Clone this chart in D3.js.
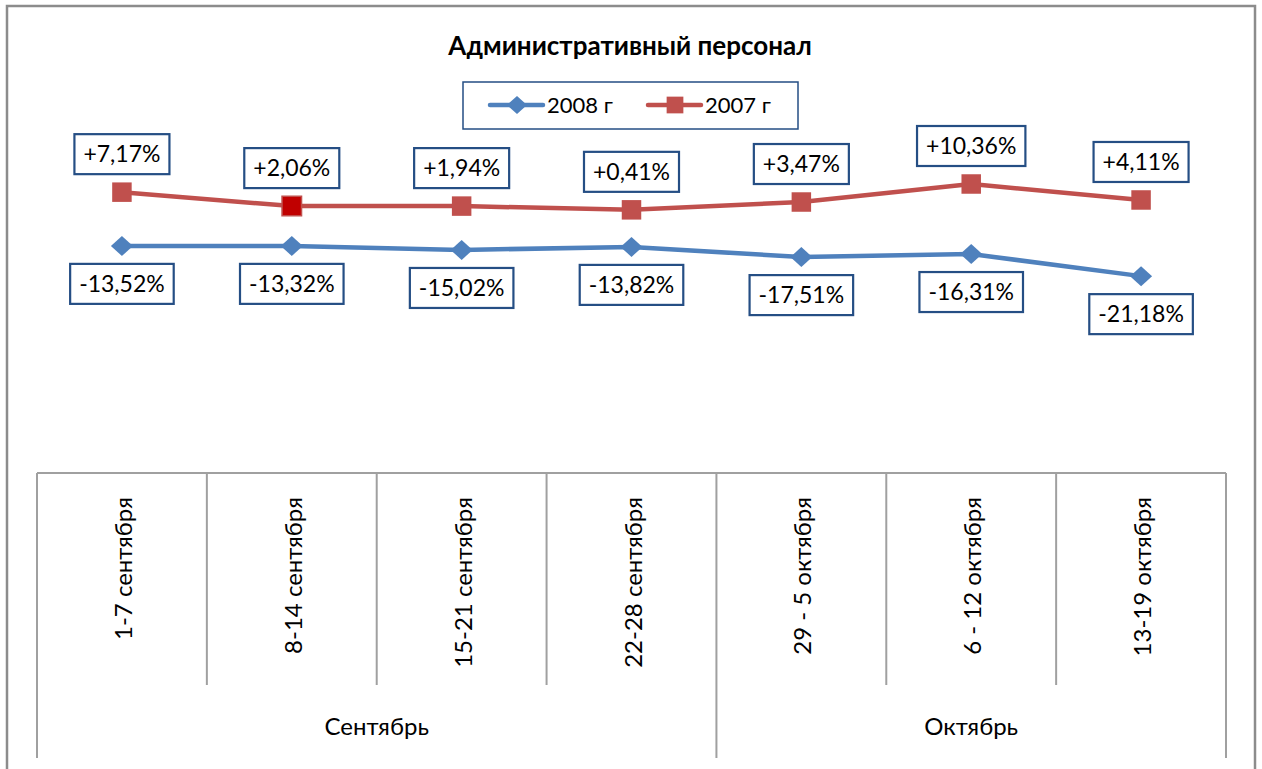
<!DOCTYPE html>
<html>
<head>
<meta charset="utf-8">
<script src="https://cdn.jsdelivr.net/npm/d3@7"></script>
<style>
  body { margin: 0; background: #fff; }
  svg { display: block; font-family: Lato, "Open Sans", sans-serif; }
</style>
</head>
<body>
<div id="chart"></div>
<script>
// data
const weeks = ["1-7 сентября", "8-14 сентября", "15-21 сентября", "22-28 сентября",
               "29 - 5 октября", "6 - 12 октября", "13-19 октября"];
const months = [
  {name: "Сентябрь", from: 0, to: 4},
  {name: "Октябрь", from: 4, to: 7}
];
const series2008 = [66.8, 66.8, 65.6, 66.5, 63.5, 64.4, 57.9];
const series2007 = [82.6, 78.5, 78.5, 77.4, 79.7, 85.0, 80.3];
const labels2008 = ["-13,52%", "-13,32%", "-15,02%", "-13,82%", "-17,51%", "-16,31%", "-21,18%"];
const labels2007 = ["+7,17%", "+2,06%", "+1,94%", "+0,41%", "+3,47%", "+10,36%", "+4,11%"];
const highlight2007 = 1; // point with darker fill

const width = 1262, height = 769;
const plot = {left: 37, right: 1226, top: 133, axis: 473};

const svg = d3.select("#chart").append("svg")
  .attr("width", width).attr("height", height);

// chart border
svg.append("rect")
  .attr("x", 7).attr("y", 6)
  .attr("width", 1248).attr("height", 780)
  .attr("fill", "#fff")
  .attr("stroke", "#8c8c8c").attr("stroke-width", 2.5);

const x = d3.scaleBand()
  .domain(d3.range(weeks.length))
  .range([plot.left, plot.right]);

const y = d3.scaleLinear()
  .domain([0, 100])
  .range([plot.axis, plot.top]);

// wide diamond like the spreadsheet marker
const diamond = (w, h) => `M0,${-h}L${w},0L0,${h}L${-w},0Z`;

// title
svg.append("text")
  .attr("x", 630).attr("y", 55)
  .attr("text-anchor", "middle")
  .attr("font-size", 26).attr("font-weight", "bold")
  .text("Административный персонал");

// legend
const lg = svg.append("g");
lg.append("rect")
  .attr("x", 463).attr("y", 82).attr("width", 335).attr("height", 47)
  .attr("fill", "#fff").attr("stroke", "#254e84").attr("stroke-width", 1.5);
const legendItems = [
  {name: "2008 г", color: "#4f81bd", square: false, x: 490},
  {name: "2007 г", color: "#c0504d", square: true, x: 648}
];
legendItems.forEach(d => {
  lg.append("line")
    .attr("x1", d.x).attr("x2", d.x + 53).attr("y1", 105).attr("y2", 105)
    .attr("stroke", d.color).attr("stroke-width", 4.5).attr("stroke-linecap", "round");
  lg.append("path")
    .attr("d", d.square ? d3.symbol().type(d3.symbolSquare).size(280)() : diamond(10, 9))
    .attr("transform", `translate(${d.x + 27},105)`)
    .attr("fill", d.color);
  lg.append("text")
    .attr("x", d.x + 57).attr("y", 113)
    .attr("font-size", 22)
    .text(d.name);
});

// category axis
const axis = svg.append("g").attr("stroke", "#a0a0a0").attr("stroke-width", 2);
axis.append("line")
  .attr("x1", plot.left).attr("x2", plot.right)
  .attr("y1", plot.axis).attr("y2", plot.axis);
d3.range(weeks.length + 1).forEach(i => {
  const xx = i < weeks.length ? x(i) : plot.right;
  const isGroup = months.some(m => m.from === i || m.to === i);
  axis.append("line")
    .attr("x1", xx).attr("x2", xx)
    .attr("y1", plot.axis).attr("y2", isGroup ? 758 : 685);
});

svg.append("g").selectAll("text").data(weeks).join("text")
  .attr("transform", (d, i) => `translate(${x(i) + x.bandwidth() / 2 + 10},497) rotate(-90)`)
  .attr("text-anchor", "end")
  .attr("font-size", 24)
  .text(d => d);

svg.append("g").selectAll("text").data(months).join("text")
  .attr("x", d => (x(d.from) + (d.to < weeks.length ? x(d.to) : plot.right)) / 2)
  .attr("y", 735)
  .attr("text-anchor", "middle")
  .attr("font-size", 24)
  .text(d => d.name);

// lines
const line = d3.line()
  .x((d, i) => x(i) + x.bandwidth() / 2)
  .y(d => y(d));

svg.append("path").datum(series2007)
  .attr("d", line).attr("fill", "none")
  .attr("stroke", "#c0504d").attr("stroke-width", 4.5).attr("stroke-linejoin", "round");
svg.append("path").datum(series2008)
  .attr("d", line).attr("fill", "none")
  .attr("stroke", "#4f81bd").attr("stroke-width", 4.5).attr("stroke-linejoin", "round");

svg.append("g").selectAll("path").data(series2007).join("path")
  .attr("d", d3.symbol().type(d3.symbolSquare).size(380)())
  .attr("transform", (d, i) => `translate(${x(i) + x.bandwidth() / 2},${y(d)})`)
  .attr("fill", (d, i) => i === highlight2007 ? "#c00000" : "#c0504d")
  .attr("stroke", (d, i) => i === highlight2007 ? "#c0504d" : "none")
  .attr("stroke-width", 1.5);

svg.append("g").selectAll("path").data(series2008).join("path")
  .attr("d", diamond(11, 10))
  .attr("transform", (d, i) => `translate(${x(i) + x.bandwidth() / 2},${y(d)})`)
  .attr("fill", "#4f81bd");

// data labels
function addLabels(values, labels, offset) {
  const g = svg.append("g").selectAll("g").data(values).join("g")
    .attr("transform", (d, i) => `translate(${x(i) + x.bandwidth() / 2},${y(d) + offset})`);
  g.append("text")
    .attr("text-anchor", "middle")
    .attr("y", 8)
    .attr("font-size", 23)
    .text((d, i) => labels[i]);
  g.each(function() {
    const t = d3.select(this).select("text");
    const w = t.node().getComputedTextLength() + 18;
    d3.select(this).insert("rect", "text")
      .attr("x", -w / 2).attr("y", -20)
      .attr("width", w).attr("height", 40)
      .attr("fill", "#fff").attr("stroke", "#254e84").attr("stroke-width", 2.2);
  });
}
addLabels(series2007, labels2007, -38);
addLabels(series2008, labels2008, 38);
</script>
</body>
</html>
